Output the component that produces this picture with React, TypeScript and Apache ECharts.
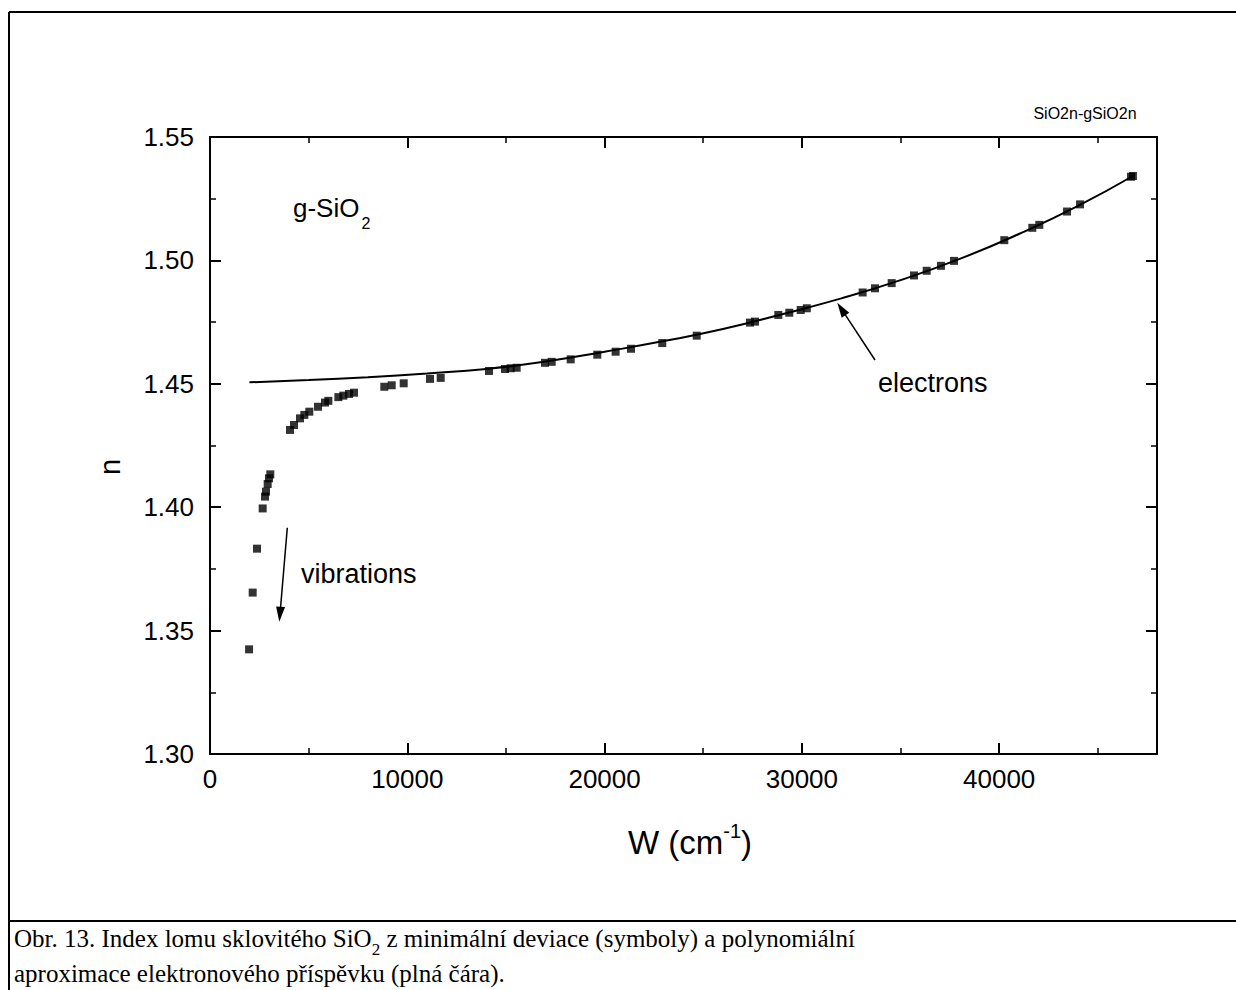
import React, { useEffect, useRef } from "react";
import * as echarts from "echarts";

// Measured refractive index (symbols)
const measW = [1980, 2164, 2383, 2670, 2788, 2839, 2923, 2991, 3057, 4055, 4258, 4562, 4781, 5034, 5475, 5830, 5999, 6506, 6759, 7046, 7299, 8835, 9210, 9818, 11150, 11693, 14142, 14953, 15240, 15544, 16980, 17320, 18282, 19630, 20560, 21340, 22925, 24670, 27370, 27624, 28805, 29362, 29940, 30250, 33080, 33706, 34552, 35683, 36326, 37050, 37710, 40260, 41680, 42035, 43440, 44100, 46680, 46780];
const measN = [1.3424, 1.3654, 1.3832, 1.3995, 1.4043, 1.4063, 1.4094, 1.4117, 1.4133, 1.4313, 1.4333, 1.4360, 1.4374, 1.4387, 1.4407, 1.4424, 1.4431, 1.4446, 1.4452, 1.4459, 1.4464, 1.4488, 1.4494, 1.4502, 1.4520, 1.4524, 1.4552, 1.4560, 1.4563, 1.4565, 1.4585, 1.4589, 1.4599, 1.4618, 1.4630, 1.4642, 1.4665, 1.4695, 1.4748, 1.4752, 1.4779, 1.4788, 1.4799, 1.4806, 1.4870, 1.4887, 1.4908, 1.4939, 1.4958, 1.4978, 1.4998, 1.5082, 1.5132, 1.5144, 1.5198, 1.5227, 1.5339, 1.5342];

// Polynomial approximation of the electron contribution (line)
const fitW = [2000, 5000, 8000, 11000, 14000, 17000, 20000, 23000, 26000, 29000, 32000, 35000, 38000, 41000, 44000, 46800];
const fitN = [1.4506, 1.4515, 1.4527, 1.4542, 1.4560, 1.4590, 1.4630, 1.4673, 1.4722, 1.4782, 1.4846, 1.4920, 1.5006, 1.5107, 1.5221, 1.5343];

const xMin = 0;
const xMax = 48000;
const xMajor = 10000;
const xMinor = 5000;
const yMin = 1.3;
const yMax = 1.55;
const yMajor = 0.05;

const SANS = "Liberation Sans, Arial, sans-serif";
const SERIF = "Liberation Serif, Times New Roman, serif";

export default function App() {
  const ref = useRef<HTMLDivElement>(null);

  useEffect(() => {
    if (!ref.current) return;
    const chart = echarts.init(ref.current, null, { renderer: "svg" });
    const lineStyle = { color: "#000", width: 2 };
    const baseX = {
      type: "value",
      min: xMin,
      max: xMax,
      axisLine: { show: true, onZero: false, lineStyle },
      splitLine: { show: false },
    };
    const baseY = {
      type: "value",
      min: yMin,
      max: yMax,
      interval: yMajor,
      axisLine: { show: true, onZero: false, lineStyle },
      splitLine: { show: false },
    };
    chart.setOption({
      animation: false,
      backgroundColor: "#fff",
      grid: { left: 210, right: 79, top: 137, bottom: 236, containLabel: false },
      xAxis: [
        {
          ...baseX,
          position: "bottom",
          interval: xMajor,
          axisTick: { show: true, inside: true, length: 11, lineStyle },
          axisLabel: {
            show: true,
            showMaxLabel: false,
            margin: 12,
            color: "#000",
            fontFamily: SANS,
            fontSize: 26,
            formatter: (v: number) => String(Math.round(v)),
          },
        },
        {
          ...baseX,
          position: "bottom",
          interval: xMinor,
          axisLine: { show: false },
          axisTick: { show: true, inside: true, length: 6, lineStyle: { color: "#000", width: 1.5 } },
          axisLabel: { show: false },
        },
        {
          ...baseX,
          position: "top",
          interval: xMajor,
          axisTick: { show: true, inside: true, length: 11, lineStyle },
          axisLabel: { show: false },
        },
        {
          ...baseX,
          position: "top",
          interval: xMinor,
          axisLine: { show: false },
          axisTick: { show: true, inside: true, length: 6, lineStyle: { color: "#000", width: 1.5 } },
          axisLabel: { show: false },
        },
      ],
      yAxis: [
        {
          ...baseY,
          position: "left",
          axisTick: { show: true, inside: true, length: 11, lineStyle },
          minorTick: { show: true, splitNumber: 2, length: 6, lineStyle: { color: "#000", width: 1.5 } },
          minorSplitLine: { show: false },
          axisLabel: {
            show: true,
            margin: 16,
            color: "#000",
            fontFamily: SANS,
            fontSize: 26,
            formatter: (v: number) => v.toFixed(2),
          },
        },
        {
          ...baseY,
          position: "right",
          axisTick: { show: true, inside: true, length: 11, lineStyle },
          minorTick: { show: true, splitNumber: 2, length: 6, lineStyle: { color: "#000", width: 1.5 } },
          minorSplitLine: { show: false },
          axisLabel: { show: false },
        },
      ],
      series: [
        {
          type: "line",
          name: "fit",
          xAxisIndex: 0,
          yAxisIndex: 0,
          data: fitW.map((w, i) => [w, fitN[i]]),
          smooth: true,
          showSymbol: false,
          symbol: "none",
          lineStyle: { color: "#000", width: 2 },
          z: 2,
        },
        {
          type: "scatter",
          name: "measured",
          xAxisIndex: 0,
          yAxisIndex: 0,
          data: measW.map((w, i) => [w, measN[i]]),
          symbol: "rect",
          symbolSize: 8,
          itemStyle: { color: "#000" },
          z: 3,
        },
      ],
      graphic: [
        // outer frame
        { type: "line", shape: { x1: 9, y1: 12, x2: 1236, y2: 12 }, style: { stroke: "#000", lineWidth: 2 } },
        { type: "line", shape: { x1: 9, y1: 12, x2: 9, y2: 990 }, style: { stroke: "#000", lineWidth: 2 } },
        { type: "line", shape: { x1: 9, y1: 921, x2: 1236, y2: 921 }, style: { stroke: "#000", lineWidth: 2 } },
        // y axis title
        {
          type: "text",
          x: 110,
          y: 467,
          rotation: Math.PI / 2,
          style: { text: "n", fill: "#000", font: `29px ${SANS}`, textAlign: "center", textVerticalAlign: "middle" },
        },
        // x axis title
        {
          type: "text",
          x: 690,
          y: 840,
          style: {
            text: "{a|W (cm}{b|-1}{a|)}",
            textAlign: "center",
            textVerticalAlign: "middle",
            rich: {
              a: { fontFamily: SANS, fontSize: 33, fill: "#000", lineHeight: 38, verticalAlign: "bottom" },
              b: { fontFamily: SANS, fontSize: 20, fill: "#000", lineHeight: 20, verticalAlign: "top" },
            },
          },
        },
        // file tag
        {
          type: "text",
          x: 1085,
          y: 113,
          style: { text: "SiO2n-gSiO2n", fill: "#000", font: `16px ${SANS}`, textAlign: "center", textVerticalAlign: "middle" },
        },
        // sample label
        {
          type: "text",
          x: 293,
          y: 210,
          style: {
            text: "{a|g-SiO}{b|2}",
            textAlign: "left",
            textVerticalAlign: "middle",
            rich: {
              a: { fontFamily: SANS, fontSize: 26, fill: "#000", lineHeight: 30, verticalAlign: "top" },
              b: { fontFamily: SANS, fontSize: 16, fill: "#000", lineHeight: 16, verticalAlign: "bottom", padding: [0, 0, -6, 2] },
            },
          },
        },
        // vibrations annotation
        {
          type: "text",
          x: 301,
          y: 574,
          style: { text: "vibrations", fill: "#000", font: `27px ${SANS}`, textAlign: "left", textVerticalAlign: "middle" },
        },
        { type: "line", shape: { x1: 287.3, y1: 527.7, x2: 280.6, y2: 607 }, style: { stroke: "#000", lineWidth: 1.5 } },
        { type: "polygon", shape: { points: [[279.3, 621.7], [285.1, 607.1], [276.1, 606.4]] }, style: { fill: "#000" } },
        // electrons annotation
        {
          type: "text",
          x: 878,
          y: 383,
          style: { text: "electrons", fill: "#000", font: `27px ${SANS}`, textAlign: "left", textVerticalAlign: "middle" },
        },
        { type: "line", shape: { x1: 875, y1: 360, x2: 845.5, y2: 315.2 }, style: { stroke: "#000", lineWidth: 1.5 } },
        { type: "polygon", shape: { points: [[837.3, 302.7], [849.3, 312.7], [841.7, 317.7]] }, style: { fill: "#000" } },
        // caption
        {
          type: "text",
          x: 14,
          y: 940,
          style: {
            text: "{a|Obr. 13. Index lomu sklovitého SiO}{b|2}{a| z minimální deviace (symboly) a polynomiální}",
            textAlign: "left",
            textVerticalAlign: "middle",
            rich: {
              a: { fontFamily: SERIF, fontSize: 25, fill: "#000", lineHeight: 29, verticalAlign: "top" },
              b: { fontFamily: SERIF, fontSize: 17, fill: "#000", lineHeight: 17, verticalAlign: "bottom", padding: [0, 0, -3, 0] },
            },
          },
        },
        {
          type: "text",
          x: 14,
          y: 973,
          style: {
            text: "aproximace elektronového příspěvku (plná čára).",
            fill: "#000",
            font: `25px ${SERIF}`,
            textAlign: "left",
            textVerticalAlign: "middle",
          },
        },
      ],
    });
    return () => chart.dispose();
  }, []);

  return (
    <div
      ref={ref}
      style={{ position: "absolute", left: 0, top: 0, width: 1236, height: 990, background: "#fff" }}
    />
  );
}
